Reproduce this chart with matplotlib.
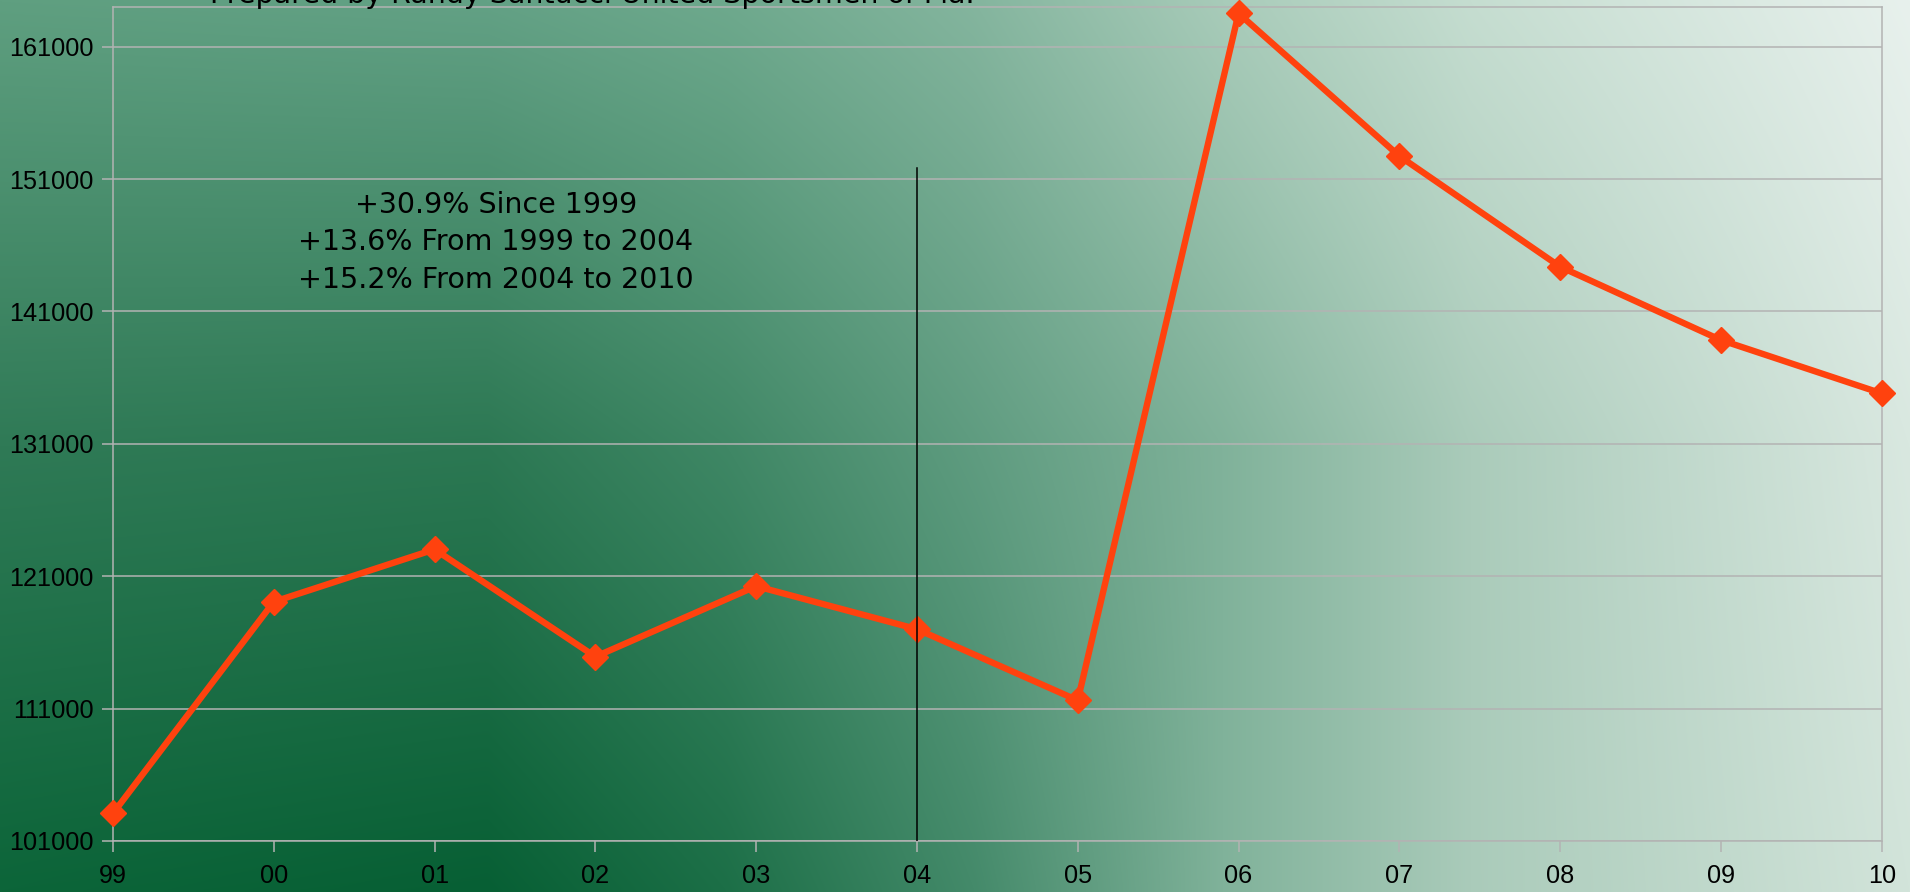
import numpy as np
import matplotlib
matplotlib.use("Agg")
import matplotlib.pyplot as plt
from matplotlib.colors import to_rgb

# ---- data ----
years = ["99", "00", "01", "02", "03", "04", "05", "06", "07", "08", "09", "10"]
values = [103090, 119070, 123030, 114920, 120250, 117000, 111620,
          163520, 152740, 144380, 138840, 134810]
y_ticks = [101000, 111000, 121000, 131000, 141000, 151000, 161000]
y_min, y_max = 101000, 164000
marker_line_index = 5          # vertical line at "04"
marker_line_top = 151860
annotation_lines = ["+30.9% Since 1999",
                    "+13.6% From 1999 to 2004",
                    "+15.2% From 2004 to 2010"]
title = "Prepared by Randy Santucci United Sportsmen of Fla."

plt.rcParams['font.family'] = ['Liberation Sans', 'DejaVu Sans']

W, H = 1910, 892
fig = plt.figure(figsize=(W / 100, H / 100), dpi=100)

# ---- background gradient (anchor colours, top row -> bottom row) ----
anchor_cols = [0.0, 0.255, 0.38, 0.51, 0.64, 0.77, 1.0]
anchor_rows = [
    ["#5f9f80", "#63a185", "#6ea98d", "#84b59e", "#a8cbb9", "#c5ddd0", "#e8f1ed"],
    ["#2f7a56", "#2c7853", "#3f8765", "#5f9c80", "#80b29a", "#aacbba", "#d9e8e0"],
    ["#0c6539", "#075f34", "#1c6f47", "#448a6a", "#80b29a", "#aacbba", "#d2e4da"],
]
row_pos = [0.0, 0.5, 1.0]
A = np.array([[to_rgb(c) for c in r] for r in anchor_rows])
nx, ny = 600, 300
xs = np.linspace(0, 1, nx)
ys = np.linspace(0, 1, ny)
tmp = np.empty((len(row_pos), nx, 3))
for i in range(len(row_pos)):
    for k in range(3):
        tmp[i, :, k] = np.interp(xs, anchor_cols, A[i, :, k])
img = np.empty((ny, nx, 3))
for j in range(nx):
    for k in range(3):
        img[:, j, k] = np.interp(ys, row_pos, tmp[:, j, k])
bg = fig.add_axes([0, 0, 1, 1], zorder=0)
bg.imshow(img, extent=[0, 1, 0, 1], aspect='auto', origin='upper', interpolation='bilinear')
bg.axis('off')

# ---- main axes ----
left, right, top, bottom = 113, 1881.7, 7, 841
ax = fig.add_axes([left / W, (H - bottom) / H, (right - left) / W, (bottom - top) / H], zorder=1)
ax.patch.set_alpha(0)

x = np.arange(len(years))
ax.plot(x, values, color="#ff420e", lw=4.6, marker="D", ms=13,
        markeredgecolor="#ff420e", zorder=3, clip_on=False)

ax.set_xlim(0, len(years) - 1)
ax.set_ylim(y_min, y_max)
ax.set_xticks(x)
ax.set_xticklabels(years)
ax.set_yticks(y_ticks)
ax.set_yticklabels([str(v) for v in y_ticks])

grid_c = "#b3b3b3"
ax.grid(axis='y', color=grid_c, lw=1.1, zorder=1)
for s in ax.spines.values():
    s.set_color(grid_c)
    s.set_linewidth(1.1)
ax.tick_params(axis='both', colors=grid_c, length=8, width=1.1, labelcolor='black',
               labelsize=18.2)
ax.tick_params(axis='x', pad=8.5)
ax.tick_params(axis='y', pad=6)

frac = (marker_line_top - y_min) / (y_max - y_min)
ax.axvline(marker_line_index, ymin=0, ymax=frac, color='black', lw=1.1, zorder=4)

# annotation block: three centred lines, baselines at fixed pixel rows
text_cx = (496 - left) / (right - left)
for i, line in enumerate(annotation_lines):
    base_px = 213 + 37.5 * i
    ax.text(text_cx, (bottom - base_px) / (bottom - top), line, transform=ax.transAxes,
            ha='center', va='baseline', fontsize=20.5, family='DejaVu Sans',
            color='black', zorder=5)

fig.text(210 / W, 1 - 3 / H, title, ha='left', va='baseline', fontsize=20.5,
         family='DejaVu Sans', color='black')

fig.savefig("out.png", dpi=100)
